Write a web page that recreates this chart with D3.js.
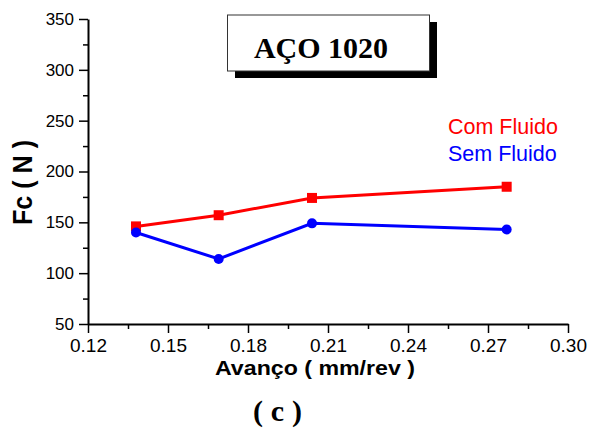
<!DOCTYPE html>
<html><head><meta charset="utf-8">
<script src="https://cdn.jsdelivr.net/npm/d3@7"></script>
<style>
body{margin:0;background:#fff;}
svg{display:block;}
</style></head>
<body>
<svg id="chart" width="590" height="430"></svg>
<script>
const feed = [0.138, 0.169, 0.204, 0.277];
const comFluido = [146, 157, 174, 185];
const semFluido = [140, 114, 149, 143];
const xTicks = [0.12, 0.15, 0.18, 0.21, 0.24, 0.27, 0.30];
const yTicks = [50, 100, 150, 200, 250, 300, 350];
const seriesNames = ["Com Fluido", "Sem Fluido"];
const seriesColors = ["#ff0000", "#0000ff"];
const title = "AÇO 1020";
const xTitle = "Avanço ( mm/rev )";
const yTitle = "Fc ( N )";
const caption = "( c )";

const svg = d3.select("#chart");
const x = d3.scaleLinear().domain([0.12, 0.30]).range([88, 568]);
const y = d3.scaleLinear().domain([50, 350]).range([324, 19]);

const yMinor = d3.range(75, 350, 50);
const xMinor = d3.range(0.135, 0.30, 0.03);

const gx = svg.append("g").attr("transform", `translate(0,${y(50)})`);
gx.call(d3.axisBottom(x).tickValues(xTicks).tickFormat(d3.format(".2f")).tickSize(9).tickSizeOuter(0).tickPadding(6));
gx.append("g").call(d3.axisBottom(x).tickValues(xMinor).tickFormat("").tickSize(5).tickSizeOuter(0))
  .select(".domain").remove();
gx.selectAll("text").attr("font-family", "Liberation Sans, Arial, sans-serif").attr("font-size", 19).attr("fill", "#000");

const gy = svg.append("g").attr("transform", `translate(${x(0.12)},0)`);
gy.call(d3.axisLeft(y).tickValues(yTicks).tickSize(9).tickSizeOuter(0).tickPadding(5));
gy.append("g").call(d3.axisLeft(y).tickValues(yMinor).tickFormat("").tickSize(5).tickSizeOuter(0))
  .select(".domain").remove();
gy.selectAll("text").attr("font-family", "Liberation Sans, Arial, sans-serif").attr("font-size", 17).attr("fill", "#000");

svg.selectAll(".domain").attr("stroke", "#000").attr("stroke-width", 2);
svg.selectAll(".tick line").attr("stroke", "#000").attr("stroke-width", 1.5);

const seriesData = [comFluido, semFluido];
const line = d3.line().x((d, i) => x(feed[i])).y(d => y(d));
seriesData.forEach((vals, s) => {
  svg.append("path").datum(vals).attr("d", line)
    .attr("fill", "none").attr("stroke", seriesColors[s]).attr("stroke-width", 3);
});
svg.selectAll(".sq").data(comFluido).join("rect")
  .attr("x", (d, i) => x(feed[i]) - 5).attr("y", d => y(d) - 5)
  .attr("width", 10).attr("height", 10).attr("fill", seriesColors[0]);
svg.selectAll(".ci").data(semFluido).join("circle")
  .attr("cx", (d, i) => x(feed[i])).attr("cy", d => y(d)).attr("r", 5)
  .attr("fill", seriesColors[1]);

svg.append("rect").attr("x", 235).attr("y", 22).attr("width", 202).attr("height", 56).attr("fill", "#000");
svg.append("rect").attr("x", 227.5).attr("y", 15).attr("width", 202).attr("height", 56)
  .attr("fill", "#fff").attr("stroke", "#333").attr("stroke-width", 1);
svg.append("text").attr("x", 321).attr("y", 58).attr("text-anchor", "middle")
  .attr("font-family", "Liberation Serif, Times New Roman, serif").attr("font-weight", "bold")
  .attr("font-size", 30).text(title);

seriesNames.forEach((n, i) => {
  svg.append("text").attr("x", 448).attr("y", 134 + i * 27)
    .attr("font-family", "Liberation Sans, Arial, sans-serif").attr("font-size", 21.5)
    .attr("fill", seriesColors[i]).text(n);
});

svg.append("text").attr("x", 215).attr("y", 375)
  .attr("font-family", "Liberation Sans, Arial, sans-serif").attr("font-weight", "bold")
  .attr("font-size", 21).attr("textLength", 200).attr("lengthAdjust", "spacingAndGlyphs")
  .attr("xml:space", "preserve").text(xTitle);
svg.append("text").attr("transform", "translate(32,225) rotate(-90)")
  .attr("font-family", "Liberation Sans, Arial, sans-serif").attr("font-weight", "bold")
  .attr("font-size", 27).attr("textLength", 85).attr("lengthAdjust", "spacingAndGlyphs")
  .attr("xml:space", "preserve").text(yTitle);

svg.append("text").attr("x", 253).attr("y", 421)
  .attr("font-family", "Liberation Serif, Times New Roman, serif").attr("font-weight", "bold")
  .attr("font-size", 30).attr("textLength", 49).attr("lengthAdjust", "spacing")
  .attr("xml:space", "preserve").text(caption);
</script>
</body></html>
